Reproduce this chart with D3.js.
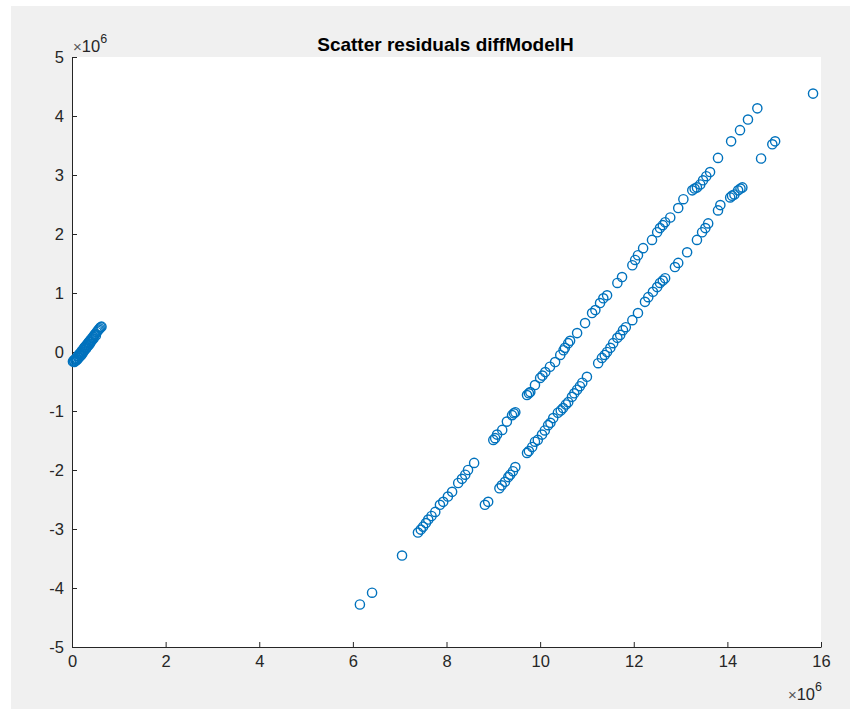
<!DOCTYPE html>
<html>
<head>
<meta charset="utf-8">
<script src="https://cdn.jsdelivr.net/npm/d3@7"></script>
<style>
  body { margin: 0; background: #fff; }
  svg { display: block; font-family: Helvetica, "Liberation Sans", Arial, sans-serif; }
</style>
</head>
<body>
<div id="chart"></div>
<script>
// Data (values in units of 1e6)
const title = "Scatter residuals diffModelH";
const xTicks = [0, 2, 4, 6, 8, 10, 12, 14, 16];
const yTicks = [-5, -4, -3, -2, -1, 0, 1, 2, 3, 4, 5];

// small cluster near the origin
const clusterX = [0.02, 0.04, 0.05, 0.07, 0.08, 0.10, 0.11, 0.12, 0.14, 0.15, 0.16, 0.18, 0.19, 0.20, 0.22,
  0.23, 0.24, 0.26, 0.27, 0.28, 0.30, 0.31, 0.32, 0.34, 0.35, 0.36, 0.38, 0.39, 0.40, 0.42, 0.43, 0.45,
  0.46, 0.48, 0.50, 0.51, 0.53, 0.55, 0.57, 0.59, 0.61, 0.63];
const clusterY = [-0.16, -0.14, -0.17, -0.12, -0.15, -0.10, -0.13, -0.07, -0.10, -0.04, -0.08, -0.02, -0.06, 0.01, -0.03,
  0.04, 0.00, 0.07, 0.03, 0.09, 0.06, 0.12, 0.08, 0.15, 0.11, 0.17, 0.14, 0.20, 0.17, 0.23, 0.20, 0.26,
  0.23, 0.29, 0.31, 0.28, 0.34, 0.36, 0.38, 0.40, 0.42, 0.43];

// upper diagonal band
const upperX = [6.15, 6.41, 7.05, 7.39, 7.45, 7.50, 7.56, 7.61, 7.68, 7.76, 7.86, 7.93, 8.03, 8.12, 8.25, 8.33,
  8.40, 8.46, 8.59, 9.00, 9.04, 9.08, 9.19, 9.29, 9.40, 9.44, 9.47, 9.72, 9.76, 9.79, 9.89, 10.00, 10.05,
  10.11, 10.21, 10.32, 10.43, 10.50, 10.53, 10.60, 10.64, 10.79, 10.96, 11.11, 11.18, 11.28, 11.35, 11.43,
  11.65, 11.75, 11.97, 12.03, 12.09, 12.20, 12.39, 12.50, 12.56, 12.62, 12.67, 12.78, 12.95, 13.06, 13.25,
  13.30, 13.35, 13.42, 13.48, 13.55, 13.63, 13.80, 14.08, 14.27, 14.44, 14.64];
const upperY = [-4.28, -4.08, -3.45, -3.06, -3.01, -2.96, -2.90, -2.84, -2.78, -2.71, -2.59, -2.54, -2.45, -2.37, -2.22, -2.15,
  -2.08, -2.00, -1.88, -1.49, -1.46, -1.40, -1.32, -1.18, -1.07, -1.04, -1.02, -0.73, -0.70, -0.68, -0.56, -0.44, -0.40,
  -0.34, -0.25, -0.17, -0.05, 0.03, 0.07, 0.15, 0.19, 0.32, 0.49, 0.66, 0.71, 0.83, 0.91, 0.96,
  1.17, 1.27, 1.47, 1.56, 1.64, 1.76, 1.90, 2.03, 2.10, 2.15, 2.20, 2.28, 2.44, 2.59, 2.74,
  2.77, 2.79, 2.84, 2.91, 2.98, 3.05, 3.29, 3.57, 3.76, 3.94, 4.13];

// lower diagonal band
const lowerX = [8.82, 8.89, 9.13, 9.18, 9.25, 9.32, 9.36, 9.42, 9.47, 9.72, 9.76, 9.83, 9.89, 9.95, 10.04, 10.10,
  10.17, 10.22, 10.28, 10.38, 10.44, 10.49, 10.55, 10.60, 10.68, 10.73, 10.79, 10.85, 10.90, 11.00, 11.24,
  11.32, 11.38, 11.43, 11.50, 11.56, 11.65, 11.71, 11.77, 11.83, 11.97, 12.09, 12.24, 12.31, 12.41, 12.50,
  12.56, 12.62, 12.67, 12.88, 12.95, 13.14, 13.35, 13.46, 13.53, 13.59, 13.80, 13.85, 14.06, 14.10, 14.15,
  14.23, 14.28, 14.32, 14.72, 14.96, 15.02, 15.83];
const lowerY = [-2.59, -2.54, -2.31, -2.26, -2.20, -2.12, -2.08, -2.02, -1.95, -1.71, -1.68, -1.61, -1.52, -1.49, -1.40, -1.33,
  -1.24, -1.20, -1.12, -1.03, -0.99, -0.95, -0.89, -0.85, -0.76, -0.70, -0.64, -0.58, -0.52, -0.42, -0.19,
  -0.10, -0.05, 0.00, 0.07, 0.15, 0.24, 0.29, 0.37, 0.42, 0.54, 0.66, 0.85, 0.93, 1.02, 1.10,
  1.17, 1.21, 1.25, 1.44, 1.51, 1.69, 1.90, 2.03, 2.10, 2.18, 2.40, 2.49, 2.62, 2.65, 2.67,
  2.74, 2.77, 2.79, 3.28, 3.52, 3.57, 4.38];

const dataset = [
  ...clusterX.map((x, i) => ({ x, y: clusterY[i] })),
  ...upperX.map((x, i) => ({ x, y: upperY[i] })),
  ...lowerX.map((x, i) => ({ x, y: lowerY[i] })),
];

// Dimensions
const dimensions = {
  width: 850,
  height: 709,
  left: 72,
  right: 821,
  top: 57,
  bottom: 647,
};
const axisColor = "#262626";
const fontFamily = 'Helvetica, "Liberation Sans", Arial, sans-serif';

const svg = d3
  .select("#chart")
  .append("svg")
  .attr("width", dimensions.width)
  .attr("height", dimensions.height);

// figure background
svg.append("rect")
  .attr("x", 11).attr("y", 6)
  .attr("width", dimensions.width - 11)
  .attr("height", dimensions.height - 6)
  .attr("fill", "#f0f0f0");

// plot area
svg.append("rect")
  .attr("x", dimensions.left).attr("y", dimensions.top)
  .attr("width", dimensions.right - dimensions.left)
  .attr("height", dimensions.bottom - dimensions.top)
  .attr("fill", "#fff");

const xScale = d3.scaleLinear().domain([0, 16]).range([dimensions.left, dimensions.right]);
const yScale = d3.scaleLinear().domain([-5, 5]).range([dimensions.bottom, dimensions.top]);

// Axes
const xAxis = d3.axisBottom(xScale)
  .tickValues(xTicks)
  .tickFormat((d) => String(d))
  .tickSizeInner(-5)
  .tickSizeOuter(0)
  .tickPadding(8);
const yAxis = d3.axisLeft(yScale)
  .tickValues(yTicks)
  .tickFormat((d) => String(d))
  .tickSizeInner(-5)
  .tickSizeOuter(0)
  .tickPadding(8);

const xAxisGroup = svg.append("g")
  .attr("transform", `translate(0, ${dimensions.bottom})`)
  .call(xAxis);
const yAxisGroup = svg.append("g")
  .attr("transform", `translate(${dimensions.left}, 0)`)
  .call(yAxis);

[xAxisGroup, yAxisGroup].forEach((g) => {
  g.select(".domain").attr("stroke", axisColor).attr("stroke-width", 1);
  g.selectAll(".tick line").attr("stroke", axisColor).attr("stroke-width", 1);
  g.selectAll(".tick text")
    .attr("fill", axisColor)
    .style("font-size", "16.5px")
    .style("font-family", fontFamily);
});

// exponent labels
function exponent(x, y, anchor) {
  const t = svg.append("text")
    .attr("x", x).attr("y", y)
    .attr("text-anchor", anchor)
    .attr("fill", axisColor)
    .style("font-size", "16.5px")
    .style("font-family", fontFamily);
  t.append("tspan").text("\u00d7").style("font-size", "15px").attr("fill", "#555");
  t.append("tspan").text("10");
  t.append("tspan").text("6").attr("dy", -9).style("font-size", "12.5px");
}
exponent(dimensions.left + 1, 52, "start");
exponent(dimensions.right + 1, 700, "end");

// Title
svg.append("text")
  .attr("x", (dimensions.left + dimensions.right) / 2 - 1)
  .attr("y", 51)
  .attr("text-anchor", "middle")
  .attr("fill", "#000")
  .style("font-size", "19px")
  .style("font-weight", "bold")
  .style("font-family", fontFamily)
  .text(title);

// Draw Circles
svg.append("g")
  .selectAll("circle")
  .data(dataset)
  .join("circle")
  .attr("cx", (d) => xScale(d.x))
  .attr("cy", (d) => yScale(d.y))
  .attr("r", 4.6)
  .attr("fill", "none")
  .attr("stroke", "#0072bd")
  .attr("stroke-width", 1.4);
</script>
</body>
</html>
